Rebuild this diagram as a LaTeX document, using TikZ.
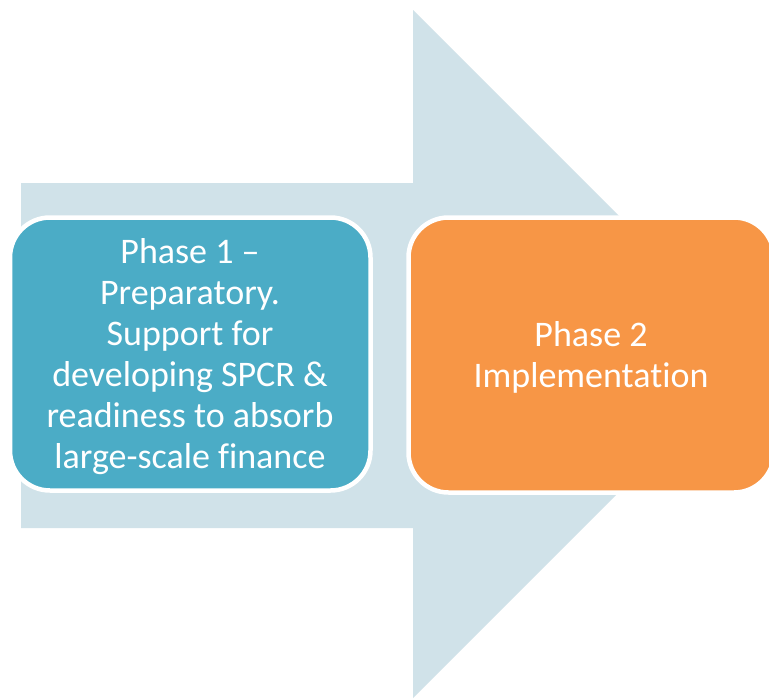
\documentclass[tikz,border=0pt]{standalone}
\usepackage{fontspec}
\setmainfont[Ligatures=NoCommon]{Carlito}
\definecolor{arrowfill}{HTML}{D0E2E9}
\definecolor{phaseblue}{HTML}{4BACC6}
\definecolor{phaseorange}{HTML}{F79646}
\begin{document}
\begin{tikzpicture}[x=1pt,y=-1pt,
  phasebox/.style={draw=white, line width=4.5pt, rounded corners=40pt},
  phasetext/.style={text=white, align=center, font=\fontsize{36}{41}\selectfont, inner sep=0pt}]
\useasboundingbox (0,0) rectangle (769,699);
\clip (0,0) rectangle (769,699);
\fill[white] (0,0) rectangle (769,699);
% big arrow
\fill[arrowfill] (21,183) -- (413,183) -- (413,10) -- (757,354) -- (413,698) -- (413,528) -- (21,528) -- cycle;
% boxes
\draw[phasebox, fill=phaseblue] (10,217.5) rectangle (370.5,490.5);
\draw[phasebox, fill=phaseorange] (408.5,217.5) rectangle (774,492.5);
\node[phasetext] (p1) at (190,357) {Phase 1 –\\Preparatory.\\Support for\\developing SPCR \&\\readiness to absorb\\large-scale finance};
\node[phasetext] (p2) at (591,357) {Phase 2\\Implementation};
\end{tikzpicture}
\end{document}
